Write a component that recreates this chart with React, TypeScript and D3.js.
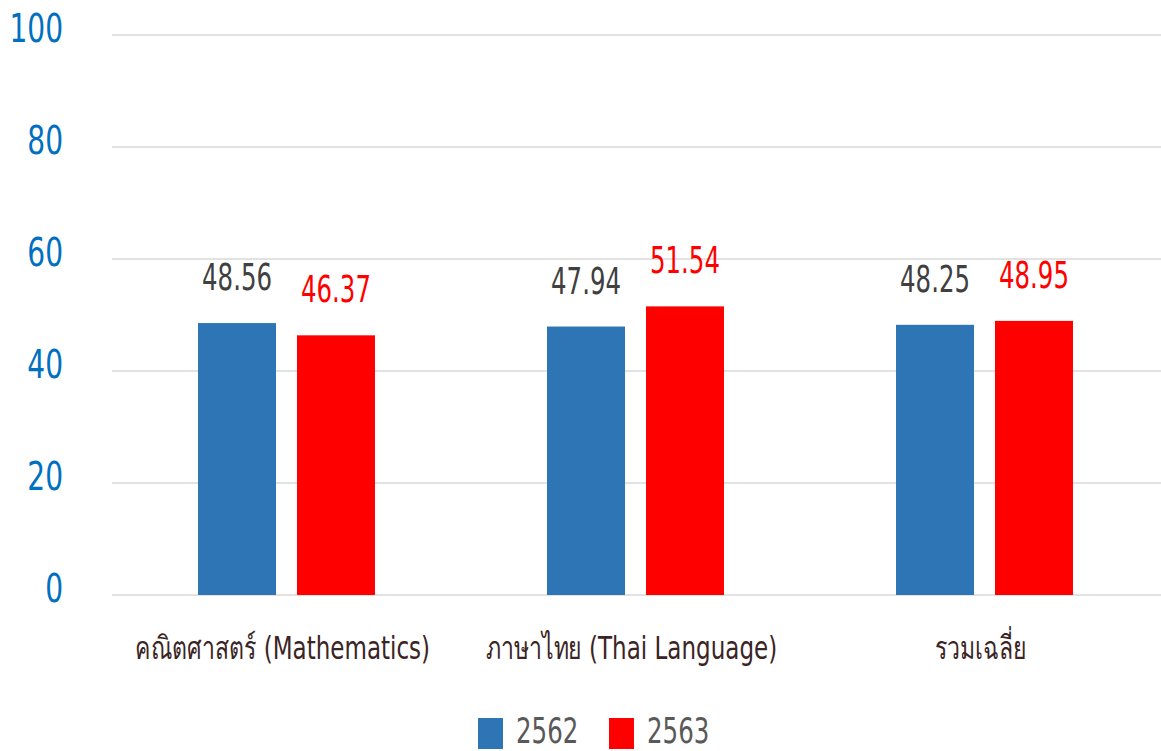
import React from 'react';
import * as d3 from 'd3';

const categories = ['คณิตศาสตร์ (Mathematics)', 'ภาษาไทย (Thai Language)', 'รวมเฉลี่ย'];
const seriesNames = ['2562', '2563'];
const values2562 = [48.56, 47.94, 48.25];
const values2563 = [46.37, 51.54, 48.95];
const yTicks = [0, 20, 40, 60, 80, 100];

const W = 1161;
const H = 751;
const FONT = '"DejaVu Sans", "Noto Sans", sans-serif';
const barColors = ['#2E75B6', '#FF0000'];
const labelColors = ['#404040', '#FF0000'];

// the reference uses a narrow font, so squeeze text horizontally
const Narrow: React.FC<{
  x: number;
  y: number;
  sx: number;
  size: number;
  fill: string;
  anchor?: 'start' | 'middle' | 'end';
  children: React.ReactNode;
}> = ({ x, y, sx, size, fill, anchor = 'start', children }) => (
  <g transform={`translate(${x},${y}) scale(${sx},1)`}>
    <text x={0} y={0} textAnchor={anchor} fill={fill} fontSize={size}>
      {children}
    </text>
  </g>
);

const App: React.FC = () => {
  const x0 = d3.scaleBand<string>().domain(categories).range([112, 1159]).padding(0);
  const x1 = d3
    .scaleBand<string>()
    .domain(seriesNames)
    .range([0, x0.bandwidth()])
    .paddingInner(0.212)
    .paddingOuter(0.869);
  const y = d3.scaleLinear().domain([0, 100]).range([595, 35]);

  const series = [values2562, values2563];

  return (
    <svg
      width={W}
      height={H}
      style={{ position: 'absolute', left: 0, top: 0, background: '#fff' }}
      fontFamily={FONT}
    >
      {/* grid + y ticks */}
      {yTicks.map((t) => (
        <g key={t}>
          <line x1={112} x2={W} y1={y(t)} y2={y(t)} stroke="#d9d9d9" strokeWidth={1.5} />
          <Narrow x={63} y={y(t) + 7} sx={0.72} size={39} fill="#0070C0" anchor="end">
            {t}
          </Narrow>
        </g>
      ))}

      {/* bars */}
      {categories.map((c, ci) => (
        <g key={c} transform={`translate(${x0(c)},0)`}>
          {seriesNames.map((s, si) => {
            const v = series[si][ci];
            const bx = x1(s)!;
            return (
              <g key={s}>
                <rect
                  x={bx}
                  y={y(v)}
                  width={x1.bandwidth()}
                  height={y(0) - y(v)}
                  fill={barColors[si]}
                />
                <Narrow
                  x={bx + x1.bandwidth() / 2}
                  y={y(v) - 33}
                  sx={0.66}
                  size={37}
                  fill={labelColors[si]}
                  anchor="middle"
                >
                  {v.toFixed(2)}
                </Narrow>
              </g>
            );
          })}
        </g>
      ))}

      {/* category labels */}
      {categories.map((c) => (
        <Narrow
          key={c}
          x={x0(c)! + x0.bandwidth() / 2 - 4}
          y={659}
          sx={0.72}
          size={32}
          fill="#3b2424"
          anchor="middle"
        >
          {c}
        </Narrow>
      ))}

      {/* legend */}
      {seriesNames.map((s, i) => {
        const lx = [478, 609][i];
        return (
          <g key={s}>
            <rect x={lx} y={718} width={25} height={31} fill={barColors[i]} />
            <Narrow x={lx + 38} y={743} sx={0.7} size={35} fill="#595959">
              {s}
            </Narrow>
          </g>
        );
      })}
    </svg>
  );
};

export default App;
